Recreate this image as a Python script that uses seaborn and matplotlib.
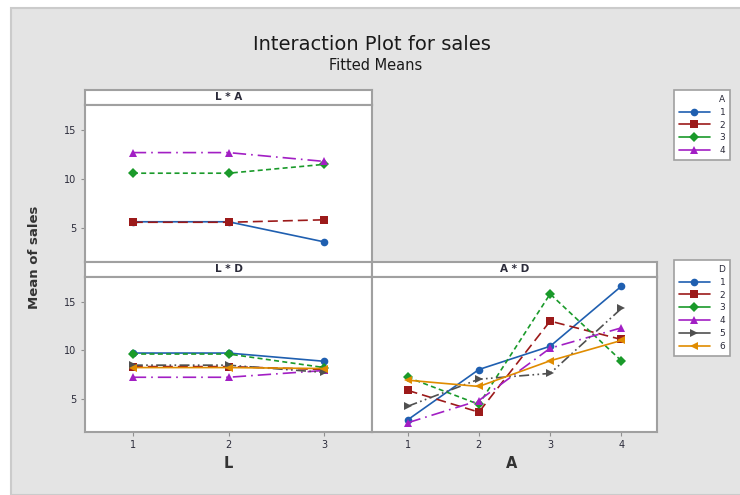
import matplotlib
matplotlib.use("Agg")
import matplotlib.pyplot as plt
from matplotlib.patches import Rectangle
from matplotlib.lines import Line2D
import seaborn as sns
import pandas as pd

# fitted means
L_levels = [1, 2, 3]
A_levels = [1, 2, 3, 4]

LA_means = {
    "1": [5.65, 5.65, 3.6],
    "2": [5.6, 5.6, 5.85],
    "3": [10.6, 10.6, 11.5],
    "4": [12.7, 12.7, 11.8],
}
LD_means = {
    "1": [9.7, 9.7, 8.85],
    "2": [8.3, 8.3, 8.0],
    "3": [9.6, 9.6, 8.2],
    "4": [7.2, 7.2, 7.9],
    "5": [8.45, 8.45, 7.7],
    "6": [8.2, 8.2, 8.1],
}
AD_means = {
    "1": [2.8, 8.0, 10.4, 16.6],
    "2": [5.85, 3.6, 13.0, 11.1],
    "3": [7.2, 4.4, 15.8, 8.9],
    "4": [2.5, 4.8, 10.2, 12.3],
    "5": [4.2, 7.0, 7.6, 14.3],
    "6": [6.9, 6.25, 8.9, 11.0],
}

colors = {"1": "#1f5fb0", "2": "#9c1a1a", "3": "#1a9a2a",
          "4": "#a21fc4", "5": "#505050", "6": "#e08c00"}
markers = {"1": "o", "2": "s", "3": "D", "4": "^", "5": ">", "6": "<"}
dashes = {"1": "", "2": (6, 3), "3": (3, 2), "4": (8, 3, 1, 3),
          "5": (6, 2, 1, 2, 1, 2), "6": ""}


def to_long(means, xs, xname, gname):
    rows = []
    for g, vals in means.items():
        for x, v in zip(xs, vals):
            rows.append({xname: x, gname: g, "sales": v})
    return pd.DataFrame(rows)


sns.set_style("white")
plt.rcParams["font.family"] = ["DejaVu Sans"]

W, H = 740, 495
fig = plt.figure(figsize=(W / 100, H / 100), dpi=100)
fig.patch.set_facecolor("white")
bg = Rectangle((11 / W, 0), 1, 1 - 8 / H, transform=fig.transFigure,
               facecolor="#e4e4e4", edgecolor="#cbcbcb", lw=1.5, zorder=-10)
fig.patches.append(bg)

border = "#a0a0a0"
text_col = "#2b2b3a"


def fpos(x0, y0, x1, y1):
    return [x0 / W, 1 - y1 / H, (x1 - x0) / W, (y1 - y0) / H]


def panel(x0, y0, x1, y1, strip_text):
    sax = fig.add_axes(fpos(x0, y0 - 15, x1, y0))
    sax.set_facecolor("white")
    sax.set_xticks([])
    sax.set_yticks([])
    for s in sax.spines.values():
        s.set_color(border)
        s.set_linewidth(1.5)
    sax.text(0.5, 0.5, strip_text, ha="center", va="center", fontsize=7.5,
             fontweight="bold", color=text_col)
    ax = fig.add_axes(fpos(x0, y0, x1, y1))
    ax.set_facecolor("white")
    for s in ax.spines.values():
        s.set_color(border)
        s.set_linewidth(1.5)
    ax.set_ylim(1.55, 17.55)
    ax.tick_params(axis="both", which="both", direction="out", length=3, width=0.8,
                   color="#909090", labelsize=7, labelcolor=text_col, pad=3,
                   left=True, bottom=True)
    return ax


def draw(ax, df, x, g):
    sns.lineplot(data=df, x=x, y="sales", hue=g, style=g, palette=colors,
                 markers=markers, dashes=dashes, markersize=5.5, linewidth=1.2,
                 markeredgewidth=0, legend=False, ax=ax)
    ax.set_xlabel("")
    ax.set_ylabel("")


ax1 = panel(85, 105, 372, 262, "L * A")
draw(ax1, to_long(LA_means, L_levels, "L", "A"), "L", "A")
ax1.set_xlim(0.5, 3.5)
ax1.set_xticks([])
ax1.set_yticks([5, 10, 15])

ax2 = panel(85, 277, 372, 432, "L * D")
draw(ax2, to_long(LD_means, L_levels, "L", "D"), "L", "D")
ax2.set_xlim(0.5, 3.5)
ax2.set_xticks(L_levels)
ax2.set_yticks([5, 10, 15])

ax3 = panel(372, 277, 657, 432, "A * D")
draw(ax3, to_long(AD_means, A_levels, "A", "D"), "A", "D")
ax3.set_xlim(0.5, 4.5)
ax3.set_xticks(A_levels)
ax3.set_yticks([])

fig.text(372 / W, 1 - 44 / H, "Interaction Plot for sales", ha="center", va="center",
         fontsize=14, color="#1a1a1a")
fig.text(376 / W, 1 - 65 / H, "Fitted Means", ha="center", va="center",
         fontsize=10.5, color="#1a1a1a")
fig.text(35 / W, 1 - 257 / H, "Mean of sales", ha="center", va="center",
         rotation=90, fontsize=9.5, fontweight="bold", color="#333333")
fig.text(228 / W, 1 - 463 / H, "L", ha="center", va="center",
         fontsize=10.5, fontweight="bold", color="#333333")
fig.text(512 / W, 1 - 463 / H, "A", ha="center", va="center",
         fontsize=10.5, fontweight="bold", color="#333333")


def make_legend(levels, title, top):
    handles = [Line2D([0], [0], color=colors[k], marker=markers[k], markersize=5.5,
                      markeredgewidth=0, lw=1.2) for k in levels]
    leg = fig.legend(handles, levels, title=title, loc="upper left",
                     bbox_to_anchor=(674 / W, 1 - top / H), fontsize=6.5,
                     title_fontsize=6.5, frameon=True, fancybox=False,
                     framealpha=1, facecolor="white", borderaxespad=0,
                     handlelength=3.4, labelspacing=0.42, borderpad=0.55,
                     handletextpad=1.1, alignment="right")
    leg.get_frame().set_edgecolor(border)
    leg.get_frame().set_linewidth(1.2)
    for t in leg.get_texts():
        t.set_color(text_col)
    leg.get_title().set_color(text_col)
    return leg


make_legend(list(LA_means.keys()), "A", 90)
make_legend(list(LD_means.keys()), "D", 260)

fig.savefig("out.png", dpi=100)
